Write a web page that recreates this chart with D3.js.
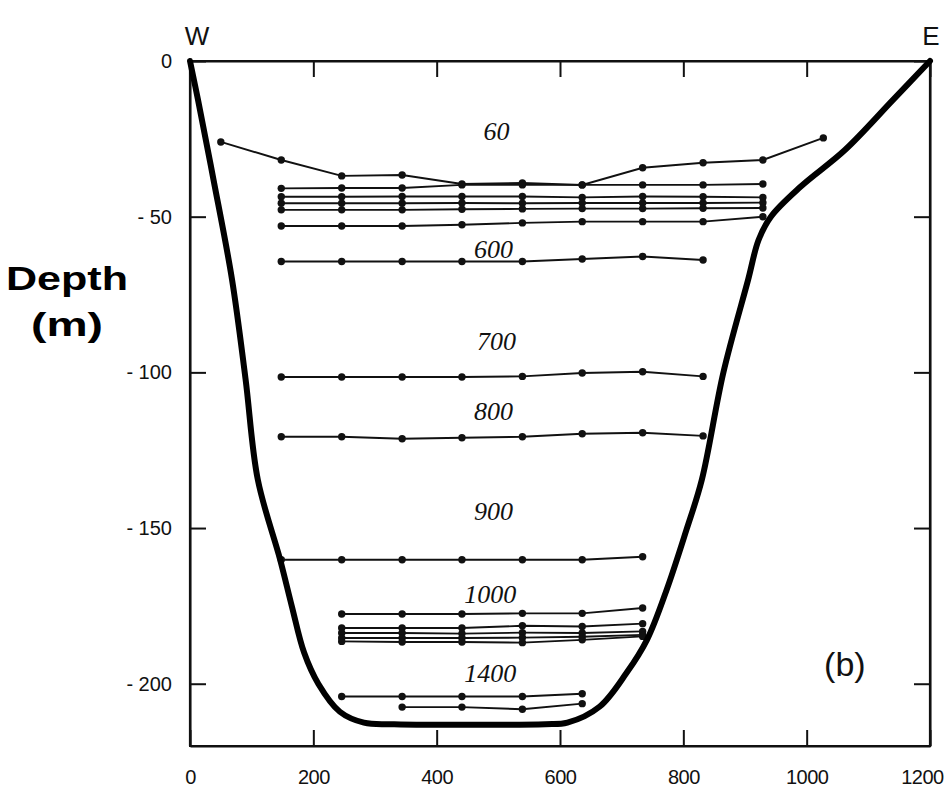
<!DOCTYPE html>
<html>
<head>
<meta charset="utf-8">
<script src="https://cdn.jsdelivr.net/npm/d3@7"></script>
<style>
	body { margin: 0; background: #fff; }
	svg { display: block; }
</style>
</head>
<body>
<div id="chart"></div>
<script>
// axis ticks
const xTicks = [0, 200, 400, 600, 800, 1000, 1200]
const yTicks = [0, -50, -100, -150, -200]

// channel cross-section (distance m, depth m)
const bedX = [0, 13, 38, 68, 90, 110, 146, 165, 185, 208, 243, 282, 331, 576, 612, 664, 708, 741, 773, 805, 830, 865, 905, 922, 942, 990, 1062, 1140, 1200]
const bedY = [0, -12.5, -38, -70, -102, -134.5, -160, -175, -190, -200, -209, -212.5, -213, -213, -212.5, -207.4, -196.5, -185.9, -169.8, -150.6, -134.5, -100, -70.3, -57.5, -50, -40.4, -28.6, -12.5, 0]

// profiles, one station list + one depth list each
const st60 = [50, 148, 246, 344, 441, 539, 636, 734, 832, 929, 1027]
const d60 = [-26, -31.8, -36.9, -36.6, -39.5, -39.2, -39.8, -34.3, -32.7, -31.8, -24.7]

const stTop = [148, 246, 344, 441, 539, 636, 734, 832, 929]
const dTop1 = [-40.9, -40.8, -40.8, -39.8, -39.8, -39.8, -39.8, -39.8, -39.5]
const dTop2 = [-43.6, -43.6, -43.5, -43.5, -43.5, -43.8, -43.5, -43.6, -43.8]
const dTop3 = [-45.7, -45.7, -45.7, -45.6, -45.7, -45.6, -45.6, -45.6, -45.5]
const dTop4 = [-47.8, -47.8, -47.8, -47.6, -47.5, -47.4, -47.4, -47.3, -47.2]
const dTop5 = [-53, -53, -53, -52.6, -52, -51.6, -51.6, -51.6, -50]

const st600 = [148, 246, 344, 441, 539, 636, 734, 832]
const d600 = [-64.4, -64.4, -64.4, -64.4, -64.4, -63.6, -62.8, -63.9]
const d700 = [-101.5, -101.5, -101.5, -101.5, -101.3, -100.2, -99.8, -101.3]
const d800 = [-120.7, -120.7, -121.3, -121, -120.7, -119.7, -119.4, -120.4]

const st900 = [148, 246, 344, 441, 539, 636, 734]
const d900 = [-160.2, -160.2, -160.2, -160.2, -160.2, -160.2, -159.2]

const st1000 = [246, 344, 441, 539, 636, 734]
const d1000a = [-177.6, -177.6, -177.6, -177.4, -177.4, -175.7]
const d1000b = [-182.1, -182.1, -182.1, -181.4, -181.6, -180.7]
const d1000c = [-183.7, -183.7, -183.9, -183.6, -183.7, -183.2]
const d1000d = [-185.3, -185.3, -185.3, -185.2, -184.9, -184.3]
const d1000e = [-186.4, -186.6, -186.6, -186.8, -185.9, -184.8]

const st1400a = [246, 344, 441, 539, 636]
const d1400a = [-204.1, -204.1, -204.1, -204.1, -203.2]
const st1400b = [344, 441, 539, 636]
const d1400b = [-207.5, -207.5, -208.2, -206.4]

// contour labels
const labelText = ["60", "600", "700", "800", "900", "1000", "1400"]
const labelX = [497, 492, 497, 492, 492, 487, 487]
const labelY = [-25.4, -63.2, -92.8, -115.2, -147.4, -174, -199.4]

const profiles = [
	[st60, d60],
	[stTop, dTop1], [stTop, dTop2], [stTop, dTop3], [stTop, dTop4], [stTop, dTop5],
	[st600, d600], [st600, d700], [st600, d800],
	[st900, d900],
	[st1000, d1000a], [st1000, d1000b], [st1000, d1000c], [st1000, d1000d], [st1000, d1000e],
	[st1400a, d1400a], [st1400b, d1400b]
]

var width = 945, height = 801

const svg = d3.select("#chart")
	.append("svg")
	.attr("width", width)
	.attr("height", height)

const x = d3.scaleLinear().domain([0, 1200]).range([190, 930])
const y = d3.scaleLinear().domain([0, -220]).range([61, 746])

const tickFont = "'Liberation Sans', Arial, sans-serif"

// frame
svg.append("rect")
	.attr("x", x(0)).attr("y", y(0))
	.attr("width", x(1200) - x(0)).attr("height", y(-220) - y(0))
	.attr("fill", "none")
	.attr("stroke", "#111")
	.attr("stroke-width", 2)
// side edges drawn again so they stay solid
svg.append("g")
	.selectAll("line")
	.data([0, 1200])
	.join("line")
	.attr("x1", d => x(d)).attr("x2", d => x(d))
	.attr("y1", y(0)).attr("y2", y(-220))
	.attr("stroke", "#111")
	.attr("stroke-width", 2.2)

// bottom axis
const gx = svg.append("g")
	.attr("transform", `translate(0,${y(-220)})`)
	.call(d3.axisBottom(x).tickValues(xTicks).tickSize(-16).tickSizeOuter(0).tickPadding(24)
		.tickFormat(d3.format("d")))
// top axis
svg.append("g")
	.attr("transform", `translate(0,${y(0)})`)
	.call(d3.axisTop(x).tickValues(xTicks).tickSize(-16).tickSizeOuter(0).tickFormat(""))
// left axis
svg.append("g")
	.attr("transform", `translate(${x(0)},0)`)
	.call(d3.axisLeft(y).tickValues(yTicks).tickSize(-16).tickSizeOuter(0).tickPadding(18)
		.tickFormat(d => d === 0 ? "0" : "- " + Math.abs(d)))
// right axis
svg.append("g")
	.attr("transform", `translate(${x(1200)},0)`)
	.call(d3.axisRight(y).tickValues(yTicks).tickSize(-16).tickSizeOuter(0).tickFormat(""))

svg.selectAll(".domain").attr("stroke", "#111").attr("stroke-width", 2)
svg.selectAll(".tick line").attr("stroke", "#111").attr("stroke-width", 2)
svg.selectAll(".tick text")
	.attr("font-family", tickFont)
	.attr("font-size", 20)
	.attr("fill", "#111")
// keep the last bottom label inside the page
gx.selectAll(".tick text")
	.attr("letter-spacing", -0.5)
	.attr("dx", d => d === 1200 ? -8 : 0)

const line = d3.line()
	.x(d => x(d[0]))
	.y(d => y(d[1]))

// profile lines with station dots
profiles.forEach(p => {
	let pts = p[0].map((v, i) => [v, p[1][i]])
	svg.append("path")
		.datum(pts)
		.attr("fill", "none")
		.attr("stroke", "#111")
		.attr("stroke-width", 1.9)
		.attr("d", line)
	svg.append("g")
		.selectAll("circle")
		.data(pts)
		.join("circle")
		.attr("cx", d => x(d[0]))
		.attr("cy", d => y(d[1]))
		.attr("r", 3.7)
		.attr("fill", "#111")
})

// channel bed
const bed = bedX.map((v, i) => [v, bedY[i]])
svg.append("path")
	.datum(bed)
	.attr("fill", "none")
	.attr("stroke", "#000")
	.attr("stroke-width", 6)
	.attr("stroke-linejoin", "round")
	.attr("stroke-linecap", "round")
	.attr("d", d3.line().x(d => x(d[0])).y(d => y(d[1])).curve(d3.curveCatmullRom))

// contour labels
svg.append("g")
	.selectAll("text")
	.data(labelText)
	.join("text")
	.attr("x", (d, i) => x(labelX[i]))
	.attr("y", (d, i) => y(labelY[i]))
	.attr("text-anchor", "middle")
	.attr("font-family", "'Liberation Serif', 'Times New Roman', serif")
	.attr("font-style", "italic")
	.attr("font-size", 26)
	.attr("fill", "#111")
	.text(d => d)

// W / E
svg.append("text")
	.attr("x", x(0) + 7).attr("y", 45)
	.attr("text-anchor", "middle")
	.attr("font-family", tickFont).attr("font-size", 26).attr("fill", "#111")
	.text("W")
svg.append("text")
	.attr("x", x(1200) + 1).attr("y", 45)
	.attr("text-anchor", "middle")
	.attr("font-family", tickFont).attr("font-size", 26).attr("fill", "#111")
	.text("E")

// panel tag
svg.append("text")
	.attr("x", x(1062)).attr("y", y(-197.5))
	.attr("text-anchor", "middle")
	.attr("font-family", tickFont).attr("font-size", 34).attr("fill", "#111")
	.text("(b)")

// y title
svg.append("text")
	.attr("x", 67).attr("y", 290)
	.attr("text-anchor", "middle")
	.attr("font-family", tickFont).attr("font-weight", "bold").attr("font-size", 34)
	.attr("textLength", 122).attr("lengthAdjust", "spacingAndGlyphs")
	.text("Depth")
svg.append("text")
	.attr("x", 67).attr("y", 336)
	.attr("text-anchor", "middle")
	.attr("font-family", tickFont).attr("font-weight", "bold").attr("font-size", 34)
	.attr("textLength", 72).attr("lengthAdjust", "spacingAndGlyphs")
	.text("(m)")
</script>
</body>
</html>
